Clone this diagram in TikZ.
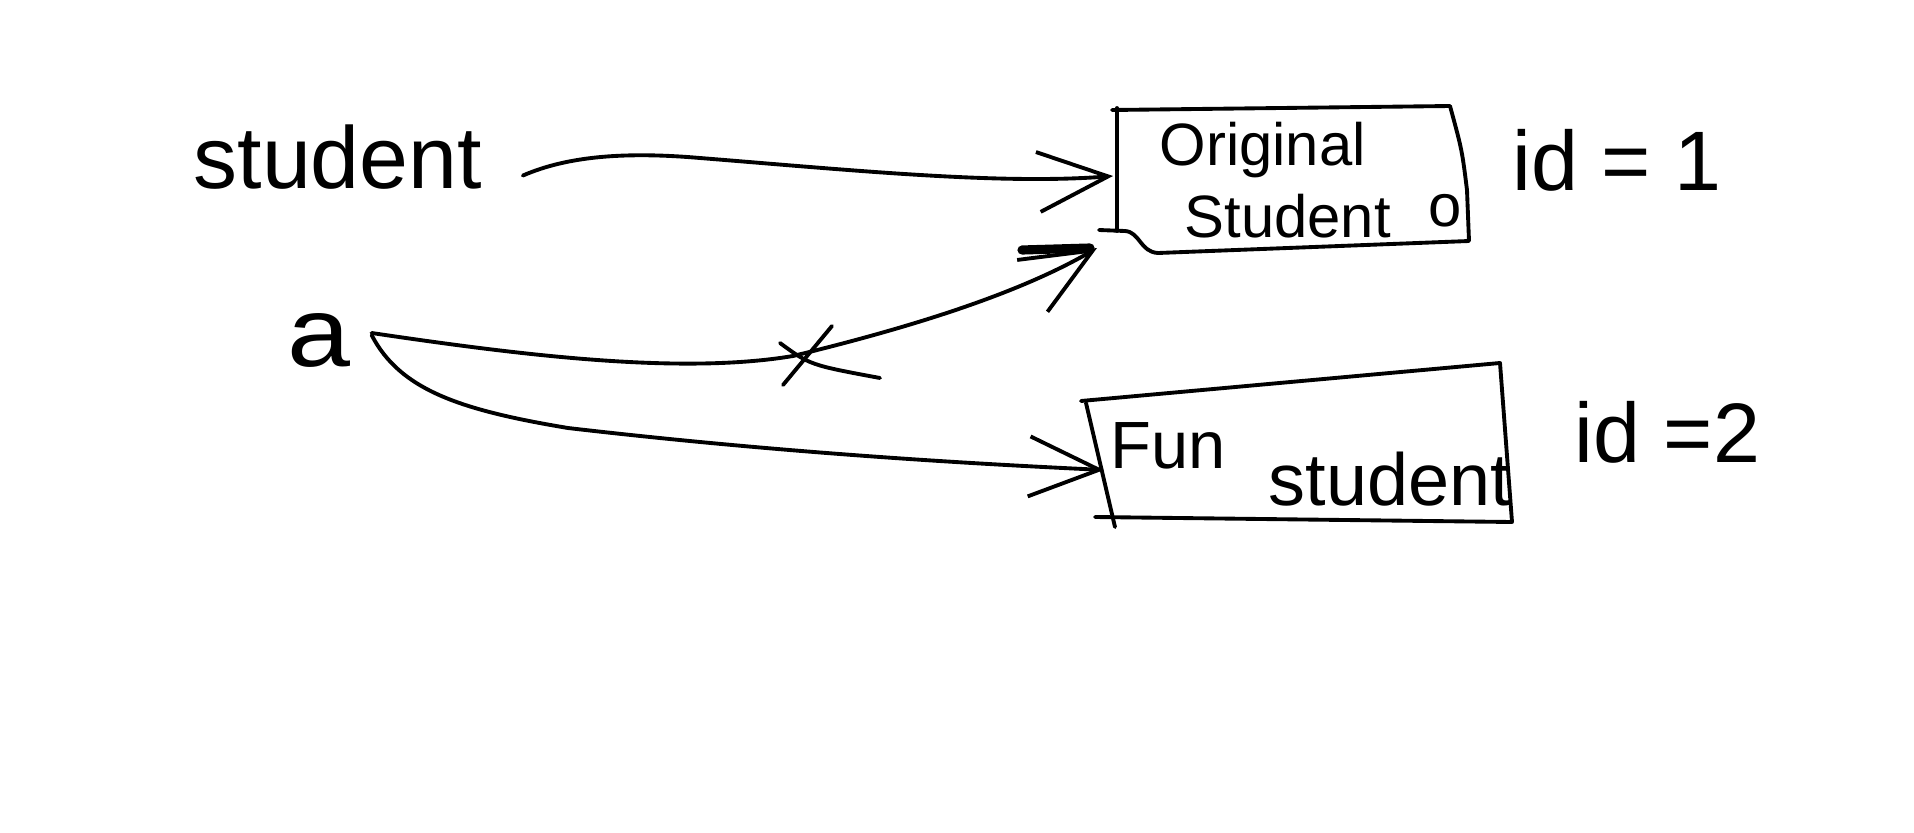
\documentclass[tikz,border=0pt]{standalone}
\usepackage{fontspec}
\setmainfont{Liberation Sans}
\usetikzlibrary{arrows.meta}
\begin{document}
\begin{tikzpicture}[x=0.01cm,y=-0.01cm,
  ink/.style={line width=1.1pt, line cap=round, line join=round},
  arr/.style={ink, -{Straight Barb[length=7mm,width=6mm]}},
  lbl/.style={inner sep=0pt, anchor=base west, font=\fontsize{25}{30}\selectfont},
  boxtxt/.style={inner sep=0pt, anchor=base west, font=\fontsize{17}{20}\selectfont}]
\useasboundingbox (0,0) rectangle (1914,833);
% labels
\node[lbl, font=\fontsize{28}{30}\selectfont, xscale=1.15] (a) at (287,366) {a};
\node[lbl] (student) at (193,188) {student};
\node[lbl, font=\fontsize{24}{28}\selectfont] (id1) at (1512,190) {id = 1};
\node[lbl, font=\fontsize{24}{28}\selectfont] (id2) at (1574,462) {id =2};
% box texts
\node[boxtxt] (orig) at (1159,165) {Original};
\node[boxtxt] (stud1) at (1184,237) {Student};
\node[boxtxt] (o) at (1428,226) {o};
\node[boxtxt, font=\fontsize{19}{22}\selectfont] (fun) at (1110,468) {Fun};
\node[boxtxt, font=\fontsize{21}{24}\selectfont] (stud2) at (1268,505) {student};
% box outlines
\draw[ink] (1099,230) -- (1125,231) .. controls (1140,232) and (1140,252) .. (1158,253)
  -- (1469,241) -- (1467,190) .. controls (1462,150) .. (1450,106) -- (1112,110);
\draw[ink] (1117,108) -- (1117,231);
\draw[ink] (1081,401) -- (1500,363) -- (1512,522) -- (1095,517);
\draw[ink] (1086,403) -- (1115,527);
% arrow targets
\coordinate (t1) at (1113,176);
\coordinate (t2) at (1097,248);
\coordinate (t3) at (1104,470);
% connectors
\draw[arr] ([shift={(40,19)}]student.east) .. controls (570,155) and (630,152) .. (700,158)
  .. controls (850,170) and (1000,185) .. (t1);
\draw[arr] ([shift={(20,-7)}]a.east) .. controls (520,355) and (680,375) .. (793,356)
  .. controls (900,330) and (1015,296) .. (t2);
\draw[arr] ([shift={(20,-5)}]a.east) .. controls (400,390) and (460,410) .. (568,428)
  .. controls (800,455) and (1000,465) .. (t3);
% heavier stroke on the upper barb
\draw[line width=2.6pt, line cap=round] (1022,250) -- (1090,248);
% cross on the old reference
\draw[ink] (783,385) -- (832,326);
\draw[ink] (780,343) .. controls (810,365) .. (880,378);
\end{tikzpicture}
\end{document}
